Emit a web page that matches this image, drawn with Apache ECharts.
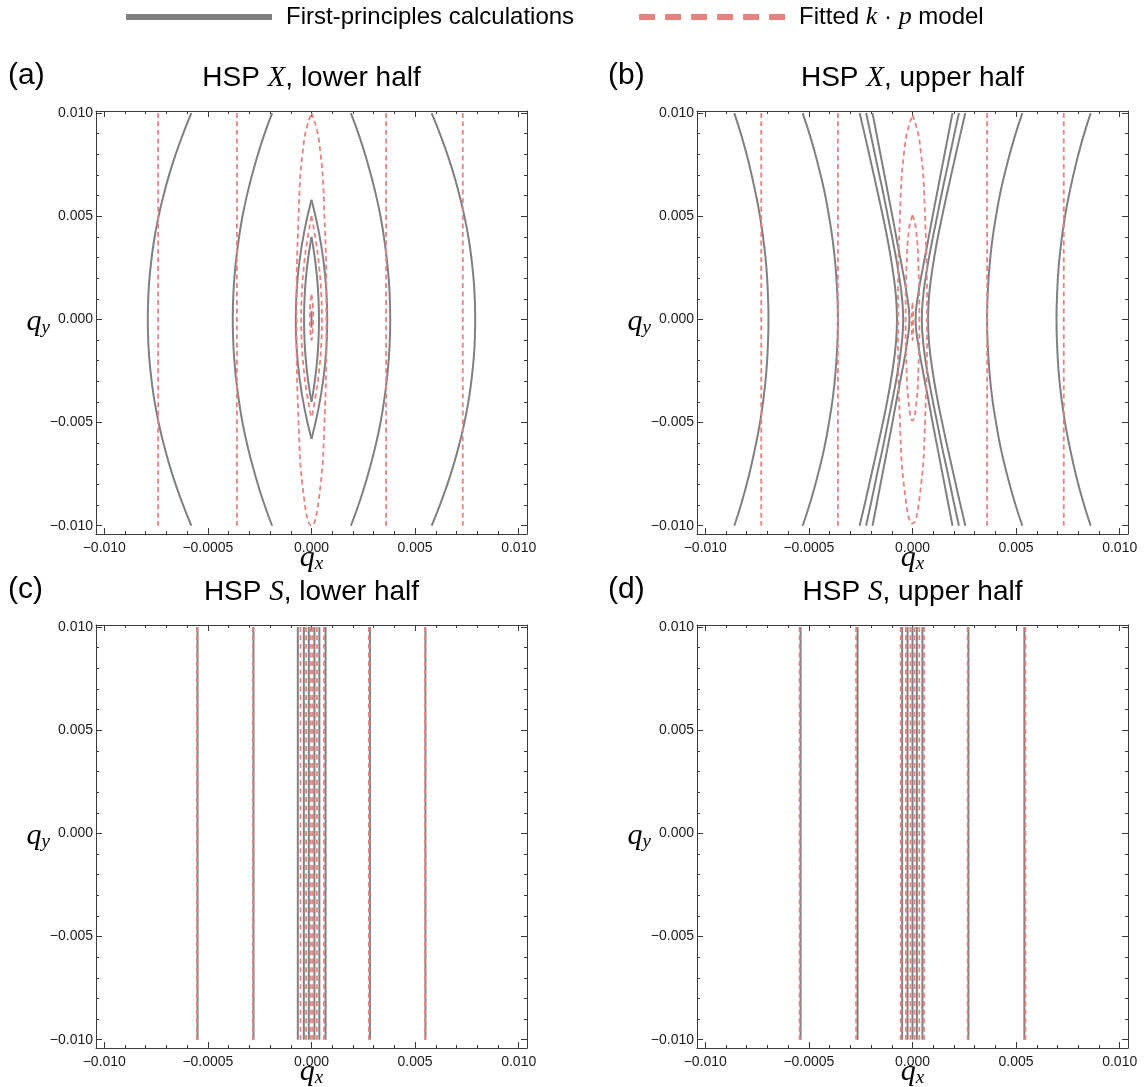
<!DOCTYPE html>
<html><head><meta charset="utf-8">
<script src="https://cdn.jsdelivr.net/npm/echarts@6/dist/echarts.min.js"></script>
<style>html,body{margin:0;padding:0;background:#fff}#c{width:1144px;height:1087px}</style>
</head><body><div id="c"></div>
<script>
// ---------- tick values / labels ----------
const xTickValues = [-0.010, -0.005, 0, 0.005, 0.010];
const xTickLabels = ['\u22120.010', '\u22120.0005', '0.000', '0.005', '0.010'];
const yTickValues = [-0.010, -0.005, 0, 0.005, 0.010];
const yTickLabels = ['\u22120.010', '\u22120.005', '0.000', '0.005', '0.010'];
const minorTickValues = [-0.010,-0.009,-0.008,-0.007,-0.006,-0.005,-0.004,-0.003,-0.002,-0.001,0,
  0.001,0.002,0.003,0.004,0.005,0.006,0.007,0.008,0.009,0.010];

const panelTags = ['(a)', '(b)', '(c)', '(d)'];
const panelTitles = ['HSP {i|X}, lower half', 'HSP {i|X}, upper half', 'HSP {i|S}, lower half', 'HSP {i|S}, upper half'];
const seriesNames = ['First-principles calculations', 'Fitted k \u00b7 p model'];

// y levels used by the open arcs of panels (a) and (b)
const arcY = [0.0100,0.00875,0.0075,0.00625,0.0050,0.00375,0.0025,0.00125,0,-0.00125,-0.0025,-0.00375,-0.0050,-0.00625,-0.0075,-0.00875,-0.0100];

// ---------- panel (a): HSP X, lower half ----------
const aArcOuterL = [-0.0058,-0.00629,-0.00672,-0.00708,-0.00738,-0.00761,-0.00777,-0.00787,-0.0079,-0.00787,-0.00777,-0.00761,-0.00738,-0.00708,-0.00672,-0.00629,-0.0058];
const aArcInnerL = [-0.0019,-0.00235,-0.00273,-0.00306,-0.00333,-0.00353,-0.00368,-0.00377,-0.0038,-0.00377,-0.00368,-0.00353,-0.00333,-0.00306,-0.00273,-0.00235,-0.0019];
const aArcInnerR = [0.0019,0.00235,0.00273,0.00306,0.00333,0.00353,0.00368,0.00377,0.0038,0.00377,0.00368,0.00353,0.00333,0.00306,0.00273,0.00235,0.0019];
const aArcOuterR = [0.0058,0.00629,0.00672,0.00708,0.00738,0.00761,0.00777,0.00787,0.0079,0.00787,0.00777,0.00761,0.00738,0.00708,0.00672,0.00629,0.0058];
const aGray = [
  [[0,0.0058],[0.000333,0.00435],[0.00057,0.0029],[0.000713,0.00145],[0.00076,0],[0.000713,-0.00145],[0.00057,-0.0029],[0.000333,-0.00435],[0,-0.0058]],
  [[0,0.0058],[-0.000333,0.00435],[-0.00057,0.0029],[-0.000713,0.00145],[-0.00076,0],[-0.000713,-0.00145],[-0.00057,-0.0029],[-0.000333,-0.00435],[0,-0.0058]],
  [[0,0.0040],[0.000158,0.0030],[0.00027,0.0020],[0.000338,0.0010],[0.00036,0],[0.000338,-0.0010],[0.00027,-0.0020],[0.000158,-0.0030],[0,-0.0040]],
  [[0,0.0040],[-0.000158,0.0030],[-0.00027,0.0020],[-0.000338,0.0010],[-0.00036,0],[-0.000338,-0.0010],[-0.00027,-0.0020],[-0.000158,-0.0030],[0,-0.0040]],
  [[0,0.0004],[0,-0.0004]]
];
const aRed = [
  [[-0.0074,0.0100],[-0.0074,-0.0100]],
  [[-0.0036,0.0100],[-0.0036,-0.0100]],
  [[0.0036,0.0100],[0.0036,-0.0100]],
  [[0.0073,0.0100],[0.0073,-0.0100]],
  [[0,0.0100],[0.00036,0.00866],[0.000624,0.0050],[0.00072,0],[0.000624,-0.0050],[0.00036,-0.00866],[0,-0.0100],[-0.00036,-0.00866],[-0.000624,-0.0050],[-0.00072,0],[-0.000624,0.0050],[-0.00036,0.00866],[0,0.0100]],
  [[0,0.0050],[0.000219,0.00375],[0.000375,0.0025],[0.000469,0.00125],[0.0005,0],[0.000469,-0.0012],[0.000375,-0.0024],[0.000219,-0.0036],[0,-0.0048]],
  [[0,0.0050],[-0.000219,0.00375],[-0.000375,0.0025],[-0.000469,0.00125],[-0.0005,0],[-0.000469,-0.0012],[-0.000375,-0.0024],[-0.000219,-0.0036],[0,-0.0048]],
  [[0,0.0012],[0.00007,0.0006],[0.00008,0],[0.00006,-0.0005],[0,-0.0010],[-0.00006,-0.0005],[-0.00008,0],[-0.00007,0.0006],[0,0.0012]]
];

// ---------- panel (b): HSP X, upper half ----------
const bArcOuterL = [-0.0086,-0.00821,-0.00788,-0.0076,-0.00736,-0.00718,-0.00705,-0.00698,-0.00695,-0.00698,-0.00705,-0.00718,-0.00736,-0.0076,-0.00788,-0.00821,-0.0086];
const bArcInnerL = [-0.0053,-0.0049,-0.00456,-0.00426,-0.00403,-0.00384,-0.00371,-0.00363,-0.0036,-0.00363,-0.00371,-0.00384,-0.00403,-0.00426,-0.00456,-0.0049,-0.0053];
const bArcInnerR = [0.0053,0.0049,0.00456,0.00426,0.00403,0.00384,0.00371,0.00363,0.0036,0.00363,0.00371,0.00384,0.00403,0.00426,0.00456,0.0049,0.0053];
const bArcOuterR = [0.0086,0.00821,0.00788,0.0076,0.00736,0.00718,0.00705,0.00698,0.00695,0.00698,0.00705,0.00718,0.00736,0.0076,0.00788,0.00821,0.0086];
// three nested pairs of branches near q_x = 0 (left branches; right ones are at +x)
const bBranchL1 = [-0.00255,-0.00226,-0.00198,-0.0017,-0.00143,-0.00118,-0.00097,-0.00081,-0.00075,-0.00081,-0.00097,-0.00118,-0.00143,-0.0017,-0.00198,-0.00226,-0.00255];
const bBranchL2 = [-0.00224,-0.00197,-0.00171,-0.00144,-0.00119,-0.00094,-0.00071,-0.00053,-0.00045,-0.00053,-0.00071,-0.00094,-0.00119,-0.00144,-0.00171,-0.00197,-0.00224];
const bBranchL3 = [-0.00193,-0.00169,-0.00145,-0.00121,-0.00097,-0.00074,-0.0005,-0.00028,-0.00015,-0.00028,-0.0005,-0.00074,-0.00097,-0.00121,-0.00145,-0.00169,-0.00193];
const bBranchR3 = [0.00193,0.00169,0.00145,0.00121,0.00097,0.00074,0.0005,0.00028,0.00015,0.00028,0.0005,0.00074,0.00097,0.00121,0.00145,0.00169,0.00193];
const bBranchR2 = [0.00224,0.00197,0.00171,0.00144,0.00119,0.00094,0.00071,0.00053,0.00045,0.00053,0.00071,0.00094,0.00119,0.00144,0.00171,0.00197,0.00224];
const bBranchR1 = [0.00255,0.00226,0.00198,0.0017,0.00143,0.00118,0.00097,0.00081,0.00075,0.00081,0.00097,0.00118,0.00143,0.0017,0.00198,0.00226,0.00255];
const bRed = [
  [[-0.0073,0.0100],[-0.0073,-0.0100]],
  [[-0.0036,0.0100],[-0.0036,-0.0100]],
  [[0.0036,0.0100],[0.0036,-0.0100]],
  [[0.0073,0.0100],[0.0073,-0.0100]],
  [[0,0.0099],[0.00035,0.00857],[0.000606,0.00495],[0.0007,0],[0.000606,-0.00495],[0.00035,-0.00857],[0,-0.0099],[-0.00035,-0.00857],[-0.000606,-0.00495],[-0.0007,0],[-0.000606,0.00495],[-0.00035,0.00857],[0,0.0099]],
  [[0,0.00505],[0.000165,0.00439],[0.000286,0.00257],[0.00033,0.000075],[0.000286,-0.00242],[0.000165,-0.00424],[0,-0.0049],[-0.000165,-0.00424],[-0.000286,-0.00242],[-0.00033,0.000075],[-0.000286,0.00257],[-0.000165,0.00439],[0,0.00505]],
  [[0,0.0008],[0.00004,-0.0001],[0,-0.0010],[-0.00004,-0.0001],[0,0.0008]]
];

// ---------- panels (c), (d): HSP S (nearly vertical contours, x positions) ----------
const cGrayX = [-0.0055, -0.0028, -0.00066, -0.00037, -0.00013, 0.00014, 0.00038, 0.00068, 0.00282, 0.0055];
const cRedX  = [-0.00553, -0.00283, -0.00053, -0.00026, -0.00003, 0.00007, 0.00026, 0.0006, 0.00277, 0.00548];
const dGrayX = [-0.0054, -0.00265, -0.0005, -0.00024, 0, 0.00021, 0.00048, 0.0027, 0.0054];
const dRedX  = [-0.00545, -0.00272, -0.00057, -0.00032, -0.0001, 0.0001, 0.00033, 0.00056, 0.00266, 0.00545];
const lineYTop = 0.0100, lineYBottom = -0.0100;

// ---------- styling / layout ----------
const GRAY = '#808080', RED = '#E8827F', FRAME = '#3a3a3a', LABEL = '#1a1a1a';
const XMIN = -0.0104, XMAX = 0.0104, YMIN = -0.0104, YMAX = 0.0101;
const grids = [
  {left: 96, top: 111, width: 431, height: 423},
  {left: 697, top: 111, width: 431, height: 423},
  {left: 96, top: 625, width: 431, height: 423},
  {left: 697, top: 625, width: 431, height: 423}
];
const tagPos = [[8, 61], [608, 61], [8, 575], [608, 575]];

function pickLabel(v, vals, labs) {
  for (let k = 0; k < vals.length; k++) if (Math.abs(v - vals[k]) < 1e-9) return labs[k];
  return '';
}
const serifI = {fontFamily: 'Liberation Serif', fontStyle: 'italic', color: '#000'};

const xAxes = [], yAxes = [];
grids.forEach((g, i) => {
  const bx = {gridIndex: i, type: 'value', min: XMIN, max: XMAX, splitLine: {show: false},
    axisLabel: {show: false}, axisTick: {show: false}, axisLine: {show: false, onZero: false}, minorTick: {show: false}};
  const by = Object.assign({}, bx, {min: YMIN, max: YMAX});
  const lineOn = {show: true, onZero: false, lineStyle: {color: FRAME, width: 1}};
  const major = (vals) => ({show: true, inside: true, length: 6, customValues: vals, lineStyle: {color: FRAME, width: 1}});
  const minor = {show: true, inside: true, length: 3, customValues: minorTickValues, lineStyle: {color: FRAME, width: 1}};
  xAxes.push(Object.assign({}, bx, {position: 'bottom', axisLine: lineOn, axisTick: major(xTickValues),
    axisLabel: {show: true, customValues: xTickValues, formatter: v => pickLabel(v, xTickValues, xTickLabels),
      margin: 7, fontSize: 14, color: LABEL, fontFamily: 'Liberation Sans'},
    name: '{q|q}{s|x}', nameLocation: 'middle', nameGap: 9, nameMoveOverlap: false,
    nameTextStyle: {rich: {q: Object.assign({fontSize: 30}, serifI), s: Object.assign({fontSize: 19, verticalAlign: 'bottom'}, serifI)}}}));
  xAxes.push(Object.assign({}, bx, {position: 'bottom', axisTick: minor}));
  xAxes.push(Object.assign({}, bx, {position: 'top', axisLine: lineOn, axisTick: major(xTickValues),
    name: panelTitles[i], nameLocation: 'middle', nameGap: 18, nameMoveOverlap: false,
    nameTextStyle: {fontSize: 28, color: '#000', fontFamily: 'Liberation Sans',
      rich: {i: Object.assign({fontSize: 29}, serifI)}}}));
  xAxes.push(Object.assign({}, bx, {position: 'top', axisTick: minor}));
  yAxes.push(Object.assign({}, by, {position: 'left', axisLine: lineOn, axisTick: major(yTickValues),
    axisLabel: {show: true, customValues: yTickValues, formatter: v => pickLabel(v, yTickValues, yTickLabels),
      margin: 3, fontSize: 14, color: LABEL, fontFamily: 'Liberation Sans'},
    name: '{q|q}{s|y}', nameLocation: 'middle', nameGap: 46, nameRotate: 0, nameMoveOverlap: false,
    nameTextStyle: {rich: {q: Object.assign({fontSize: 30}, serifI), s: Object.assign({fontSize: 19, verticalAlign: 'bottom'}, serifI)}}}));
  yAxes.push(Object.assign({}, by, {position: 'left', axisTick: minor}));
  yAxes.push(Object.assign({}, by, {position: 'right', axisLine: lineOn, axisTick: major(yTickValues)}));
  yAxes.push(Object.assign({}, by, {position: 'right', axisTick: minor}));
});

function mk(pts, gi, red) {
  return {
    type: 'line', name: red ? seriesNames[1] : seriesNames[0],
    xAxisIndex: 4 * gi, yAxisIndex: 4 * gi, data: pts,
    symbol: 'none', showSymbol: false, smooth: 0.5, silent: true, animation: false,
    color: red ? RED : GRAY, z: red ? 3 : 2,
    lineStyle: red ? {color: RED, width: 1.8, type: [5, 3.5]} : {color: GRAY, width: 2}
  };
}
const vert = x => [[x, lineYTop], [x, 0], [x, lineYBottom]];
const arc = xs => xs.map((x, k) => [x, arcY[k]]);

const series = [];
[aArcOuterL, aArcInnerL, aArcInnerR, aArcOuterR].forEach(xs => series.push(mk(arc(xs), 0, false)));
aGray.forEach(c => series.push(mk(c, 0, false)));
[bArcOuterL, bArcInnerL, bBranchL1, bBranchL2, bBranchL3, bBranchR3, bBranchR2, bBranchR1, bArcInnerR, bArcOuterR]
  .forEach(xs => series.push(mk(arc(xs), 1, false)));
cGrayX.forEach(x => series.push(mk(vert(x), 2, false)));
dGrayX.forEach(x => series.push(mk(vert(x), 3, false)));
aRed.forEach(c => series.push(mk(c, 0, true)));
bRed.forEach(c => series.push(mk(c, 1, true)));
cRedX.forEach(x => series.push(mk(vert(x), 2, true)));
dRedX.forEach(x => series.push(mk(vert(x), 3, true)));

const dashIcon = 'path://M0 0h16v6h-16z M26 0h16v6h-16z M52 0h16v6h-16z M78 0h16v6h-16z M104 0h16v6h-16z M130 0h16v6h-16z';

const option = {
  backgroundColor: '#fff',
  animation: false,
  textStyle: {fontFamily: 'Liberation Sans'},
  title: panelTags.map((t, i) => ({text: t, left: tagPos[i][0], top: tagPos[i][1], padding: 0,
    textStyle: {fontSize: 30, fontWeight: 'normal', color: '#000', fontFamily: 'Liberation Sans'}})),
  legend: {
    left: 126, top: 4, itemWidth: 146, itemHeight: 6, itemGap: 65, selectedMode: false, padding: 0,
    symbolKeepAspect: false,
    data: [
      {name: seriesNames[0], icon: 'rect', itemStyle: {color: GRAY, borderWidth: 0}},
      {name: seriesNames[1], icon: dashIcon, itemStyle: {color: RED, borderWidth: 0}}
    ],
    formatter: n => n === seriesNames[1] ? 'Fitted {i|k} \u00b7 {i|p} model' : n,
    textStyle: {fontSize: 24, color: '#000', fontFamily: 'Liberation Sans', padding: [0, 0, 0, 9],
      rich: {i: Object.assign({fontSize: 26}, serifI)}}
  },
  grid: grids.map(g => Object.assign({containLabel: false, outerBoundsMode: 'none'}, g)),
  xAxis: xAxes,
  yAxis: yAxes,
  series: series
};
const chart = echarts.init(document.getElementById('c'), null, {renderer: 'canvas'});
chart.setOption(option);
</script></body></html>
